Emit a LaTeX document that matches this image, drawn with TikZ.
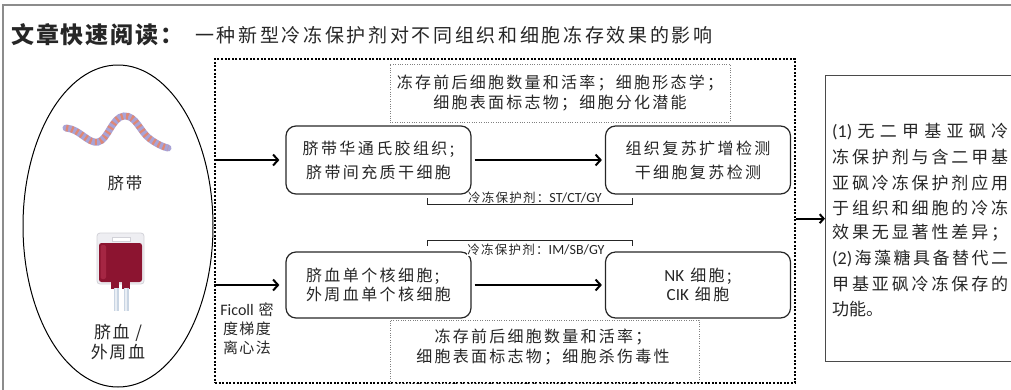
\documentclass[tikz,border=0pt]{standalone}
\usepackage{fontspec}
\setmainfont{Noto Sans CJK SC}
\newfontfamily\lat{Carlito}
\usetikzlibrary{arrows.meta,shapes.geometric}

\definecolor{ink}{HTML}{262626}
\definecolor{framegray}{HTML}{8C8C8C}
\definecolor{boxgray}{HTML}{4A4A4A}
\definecolor{cordlav}{HTML}{A9A3D6}
\definecolor{cordorg}{HTML}{E4866C}
\definecolor{bagred}{HTML}{8C1430}
\definecolor{bagredlt}{HTML}{A52643}
\definecolor{bagshell}{HTML}{EEEEF2}
\definecolor{bagedge}{HTML}{D2D2D8}
\definecolor{tubeblue}{HTML}{C9D5E3}

% spread the characters of one line evenly over a given width
\makeatletter
\let\endspread\relax
\def\spreadchars#1{{#1}\futurelet\spread@next\spread@check}
\def\spread@check{\ifx\spread@next\endspread\expandafter\@gobble\else\hfil\expandafter\spreadchars\fi}
\makeatother
\newcommand\spreadline[2]{\hbox to #1{\spreadchars#2\endspread}}

\tikzset{
  proc/.style={draw=ink, line width=1.2pt, rounded corners=10pt, minimum width=185pt,
    align=center, text=ink, inner sep=2pt},
  topfont/.style={font={\fontsize{16}{24}\selectfont\addfontfeature{LetterSpace=15}}},
  lowfont/.style={font={\fontsize{16}{19.5}\selectfont\addfontfeature{LetterSpace=15}}},
  hint/.style={draw=gray, line width=0.8pt, dash pattern=on 0.8pt off 1.6pt},
  notefont/.style={text=ink, align=center, font={\fontsize{16}{20}\selectfont\addfontfeature{LetterSpace=14}}},
  outerdots/.style={draw=black, line width=2.4pt, dash pattern=on 2pt off 1.6pt},
  flow/.style={-{Straight Barb[length=5pt,width=11pt]}, line width=2pt, draw=black},
  agent/.style={fill=white, inner sep=0.5pt, text=ink, font={\fontsize{12.5}{12.5}\selectfont\addfontfeature{LetterSpace=10}}},
  bracket/.style={draw=ink, line width=0.9pt},
  plain/.style={text=ink, inner sep=0pt},
}

\begin{document}
\begin{tikzpicture}[x=1pt,y=-1pt]
\useasboundingbox (0,0) rectangle (1011,389);

% page frame
\draw[framegray, line width=1.5pt] (3,395) -- (3,5) -- (1015,5);

% heading
\node[plain, anchor=west, font={\fontsize{23}{23}\selectfont\bfseries\addfontfeature{LetterSpace=8}}] (title) at (11,35) {文章快速阅读：};
\node[plain, anchor=west, font={\fontsize{19}{19}\selectfont\addfontfeature{LetterSpace=14}}] (subtitle) at (195,35) {一种新型冷冻保护剂对不同组织和细胞冻存效果的影响};

% sources
\node[ellipse, draw=black, line width=1pt, minimum width=190pt, minimum height=322pt, inner sep=0pt] (source) at (118,226) {};

% umbilical cord
\draw[cordlav, line width=7pt, line cap=round] (66,128) .. controls (80,129) and (88,144) .. (98,142) .. controls (108,140) and (112,117) .. (124,116) .. controls (136,115) and (140,132) .. (150,139) .. controls (157,144) and (163,147) .. (168,148);
\draw[cordorg, line width=6.4pt, dash pattern=on 2.2pt off 3.2pt, opacity=0.9] (66,128) .. controls (80,129) and (88,144) .. (98,142) .. controls (108,140) and (112,117) .. (124,116) .. controls (136,115) and (140,132) .. (150,139) .. controls (157,144) and (163,147) .. (168,148);
\node[plain, font={\fontsize{16.5}{20}\selectfont\addfontfeature{LetterSpace=10}}] (cordlabel) at (125,183) {脐带};

% blood bag
\filldraw[fill=bagshell, draw=bagedge, line width=0.8pt, rounded corners=3pt] (97,233) rectangle (144,284);
\fill[bagred, rounded corners=2.5pt] (99,243) rectangle (142,282);
\fill[bagredlt, rounded corners=2pt] (100.5,245) rectangle (106,279);
\filldraw[fill=white, draw=bagedge, line width=0.6pt] (112,237) rectangle (130,241);
\fill[bagred] (111,282) rectangle (119,289);
\fill[bagred] (122,282) rectangle (130,289);
\fill[tubeblue] (113.5,288) rectangle (118.5,311);
\fill[tubeblue] (123.5,288) rectangle (128.5,311);
\fill[white!60!tubeblue] (115,288) rectangle (117,311);
\fill[white!60!tubeblue] (125,288) rectangle (127,311);
\node[plain, align=center, font={\fontsize{17}{20}\selectfont\addfontfeature{LetterSpace=10}}] (bloodlabel) at (118,342) {脐血 /\\外周血};

% study frame and measurement notes
\node[outerdots, minimum width=580pt, minimum height=324pt, inner sep=0pt] (study) at (505,221) {};
\node[hint, notefont, minimum width=340pt, minimum height=58pt, inner sep=0pt] (note1) at (560,93) {冻存前后细胞数量和活率；细胞形态学；\\细胞表面标志物；细胞分化潜能};
\node[hint, minimum width=309pt, minimum height=63pt, inner sep=0pt] (note2) at (544.5,351.5) {};
\node[notefont, inner sep=0pt] (note2txt) at (543,347.5) {冻存前后细胞数量和活率；\\细胞表面标志物；细胞杀伤毒性};

% process boxes
\node[proc, topfont, minimum height=68pt] (tissue) at (378.5,160) {脐带华通氏胶组织;\\脐带间充质干细胞};
\node[proc, topfont, minimum height=68pt] (recover) at (698,160) {组织复苏扩增检测\\干细胞复苏检测};
\node[proc, lowfont, minimum height=66pt, align=left] (mono) at (378.5,285) {脐血单个核细胞;\\外周血单个核细胞};
\node[proc, lowfont, minimum height=66pt] (immune) at (698,285) {{\lat\fontsize{17}{19.5}\selectfont NK} 细胞;\\{\lat\fontsize{17}{19.5}\selectfont CIK} 细胞};

% cryoprotectant brackets
\draw[bracket] (427,198) -- (427,204) -- (632,204) -- (632,198);
\node[agent] (agent1) at (535,198) {冷冻保护剂：{\lat\fontsize{14}{14}\selectfont ST/CT/GY}};
\draw[bracket] (427,246) -- (427,240) -- (632,240) -- (632,246);
\node[agent] (agent2) at (536,249.5) {冷冻保护剂：{\lat\fontsize{14}{14}\selectfont IM/SB/GY}};

\node[plain, align=center, font={\fontsize{15}{19}\selectfont\addfontfeature{LetterSpace=10}}] (ficoll) at (247,329) {{\lat\fontsize{16}{19}\selectfont Ficoll} 密\\度梯度\\离心法};

% arrows
\draw[flow, shorten >=6pt] (study.west |- tissue.west) -- (tissue.west);
\draw[flow, shorten <=3pt, shorten >=3pt] (tissue.east) -- (recover.west);
\draw[flow, shorten >=6pt] (study.west |- mono.west) -- (mono.west);
\draw[flow, shorten <=3pt, shorten >=3pt] (mono.east) -- (immune.west);

% conclusions
\node[draw=boxgray, line width=1.3pt, minimum width=192pt, minimum height=286pt, anchor=north west, inner sep=0pt] (result) at (825,75) {};
\draw[-{Straight Barb[length=4pt,width=9pt]}, line width=2pt] (study.east |- result.west) -- (result.west);

\foreach \restext [count=\i] in {
  {\spreadline{176pt}{{\lat\fontsize{18}{20}\selectfont(1)}无二甲基亚砜冷}},
  {\spreadline{176pt}{冻保护剂与含二甲基}},
  {\spreadline{176pt}{亚砜冷冻保护剂应用}},
  {\spreadline{176pt}{于组织和细胞的冷冻}},
  {\spreadline{176pt}{效果无显著性差异；}},
  {\spreadline{176pt}{{\lat\fontsize{18}{20}\selectfont(2)}海藻糖具备替代二}},
  {\spreadline{176pt}{甲基亚砜冷冻保存的}},
  {功能。}}
  \node[plain, anchor=west, font={\fontsize{17}{20}\selectfont}] (res\i) at (832,{132+25.3*(\i-1)}) {\restext};

\end{tikzpicture}
\end{document}
